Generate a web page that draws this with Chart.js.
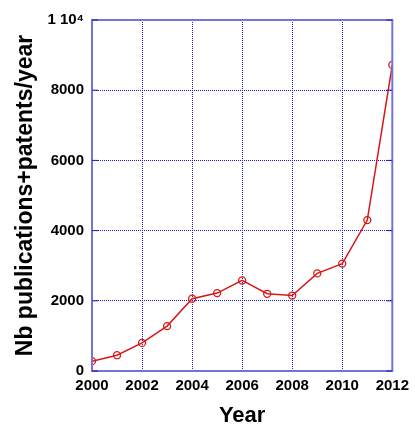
<!DOCTYPE html>
<html>
<head>
<meta charset="utf-8">
<script src="https://cdn.jsdelivr.net/npm/chart.js@4/dist/chart.umd.min.js"></script>
<style>
  html, body { margin: 0; padding: 0; background: #fff; }
  #wrap { width: 415px; height: 434px; }
</style>
</head>
<body>
<div id="wrap"><canvas id="pubChart"></canvas></div>
<script>
// data
const years = [2000, 2001, 2002, 2003, 2004, 2005, 2006, 2007, 2008, 2009, 2010, 2011, 2012];
const counts = [280, 450, 800, 1280, 2060, 2220, 2580, 2200, 2150, 2780, 3060, 4300, 8720];
const xTicks = [2000, 2002, 2004, 2006, 2008, 2010, 2012];
const yTicks = [0, 2000, 4000, 6000, 8000, 10000];

const axisBlue = '#7474d8';
const gridBlue = '#1a1ad0';

// frame round the plot area + small inward ticks on both sides
const framePlugin = {
  id: 'frame',
  afterDraw(chart) {
    const { ctx, chartArea: a, scales } = chart;
    ctx.save();
    ctx.strokeStyle = axisBlue;
    ctx.lineWidth = 2;
    ctx.strokeRect(a.left, a.top, a.right - a.left, a.bottom - a.top);
    ctx.strokeStyle = gridBlue;
    ctx.lineWidth = 1;
    yTicks.forEach(v => {
      const y = scales.y.getPixelForValue(v);
      ctx.beginPath();
      ctx.moveTo(a.right - 6, y); ctx.lineTo(a.right, y);
      ctx.moveTo(a.left, y); ctx.lineTo(a.left + 6, y);
      ctx.stroke();
    });
    ctx.restore();
  }
};

const config = {
  type: 'line',
  data: {
    labels: years,
    datasets: [{
      data: years.map((yr, i) => ({ x: yr, y: counts[i] })),
      borderColor: '#d81818',
      borderWidth: 1.5,
      tension: 0,
      fill: false,
      pointStyle: 'circle',
      pointRadius: 3.5,
      pointBorderWidth: 1.3,
      pointBackgroundColor: 'rgba(0,0,0,0)',
      pointBorderColor: '#d81818',
    }],
  },
  options: {
    responsive: true,
    maintainAspectRatio: false,
    animation: false,
    layout: { padding: { top: 20, right: 19, left: 0, bottom: 0 } },
    plugins: {
      legend: { display: false },
      tooltip: { enabled: false },
    },
    scales: {
      x: {
        type: 'linear',
        min: 2000,
        max: 2012,
        afterBuildTicks: scale => { scale.ticks = xTicks.map(v => ({ value: v })); },
        afterFit: scale => { scale.height = 63; },
        grid: { color: gridBlue, lineWidth: 1, drawTicks: false },
        border: { display: false, dash: [1, 1] },
        ticks: {
          color: '#000',
          padding: 6,
          maxRotation: 0,
          font: { family: 'Liberation Sans, Arial', size: 15, weight: 'bold' },
          callback: v => String(v),
        },
        title: {
          display: true,
          text: 'Year',
          color: '#000',
          padding: { top: 0, bottom: 5 },
          font: { family: 'Liberation Sans, Arial', size: 22, weight: 'bold' },
        },
      },
      y: {
        min: 0,
        max: 10000,
        afterBuildTicks: scale => { scale.ticks = yTicks.map(v => ({ value: v })); },
        afterFit: scale => { scale.width = 92; },
        grid: { color: gridBlue, lineWidth: 1, drawTicks: false },
        border: { display: false, dash: [1, 1] },
        ticks: {
          color: '#000',
          padding: 8,
          font: { family: 'Liberation Sans, Arial', size: 15, weight: 'bold' },
          callback: v => (v === 10000 ? '1 10\u2074' : String(v)),
        },
        title: {
          display: true,
          text: 'Nb publications+patents/year',
          color: '#000',
          padding: { top: 12, bottom: 0 },
          font: { family: 'Liberation Sans, Arial', size: 23, weight: 'bold' },
        },
      },
    },
  },
  plugins: [framePlugin],
};

const chart = new Chart('pubChart', config);
</script>
</body>
</html>
